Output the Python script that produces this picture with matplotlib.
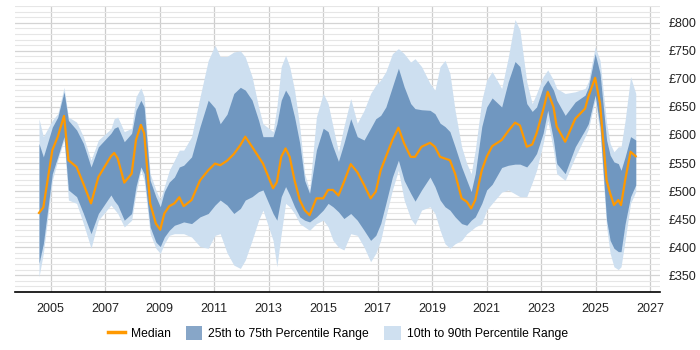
import matplotlib
matplotlib.use("Agg")
import matplotlib.pyplot as plt
from matplotlib.patches import Patch
from matplotlib.lines import Line2D
from matplotlib.ticker import MultipleLocator, FixedLocator

plt.rcParams['font.family'] = ['Liberation Sans', 'DejaVu Sans']

years = [2004.57, 2004.73, 2005.06, 2005.26, 2005.49, 2005.65, 2005.95, 2006.20, 2006.48, 2006.75,
         2007.21, 2007.33, 2007.46, 2007.70, 2007.97, 2008.13, 2008.31, 2008.43, 2008.65, 2008.86,
         2009.02, 2009.17, 2009.35, 2009.54, 2009.72, 2009.88, 2010.17, 2010.48, 2010.78, 2011.03,
         2011.22, 2011.47, 2011.72, 2011.96, 2012.14, 2012.39, 2012.63, 2012.79, 2013.16, 2013.30,
         2013.46, 2013.62, 2013.77, 2013.95, 2014.14, 2014.32, 2014.50, 2014.75, 2015.00, 2015.18,
         2015.36, 2015.56, 2015.76, 2016.01, 2016.25, 2016.50, 2016.74, 2016.93, 2017.11, 2017.30,
         2017.54, 2017.76, 2017.97, 2018.21, 2018.37, 2018.61, 2018.92, 2019.10, 2019.29, 2019.47,
         2019.65, 2019.84, 2020.08, 2020.27, 2020.43, 2020.58, 2020.82, 2021.00, 2021.20, 2021.55,
         2021.79, 2022.04, 2022.22, 2022.47, 2022.67, 2022.83, 2023.07, 2023.24, 2023.45, 2023.57,
         2023.88, 2024.25, 2024.61, 2024.73, 2024.98, 2025.16, 2025.40, 2025.53, 2025.67, 2025.83,
         2025.93, 2026.08, 2026.28, 2026.47]

p10 = [347, 389, 519, 555, 591, 484, 478, 442, 398, 448,
       475, 468, 460, 436, 448, 496, 537, 519, 424, 398,
       389, 406, 421, 424, 424, 424, 418, 401, 398, 421,
       424, 390, 368, 362, 377, 412, 448, 466, 412, 365,
       424, 478, 472, 460, 442, 436, 430, 442, 448, 436,
       412, 400, 395, 424, 421, 400, 374, 389, 412, 454,
       502, 537, 484, 451, 440, 466, 472, 460, 430, 406,
       398, 406, 412, 424, 430, 436, 442, 466, 478, 498,
       502, 495, 490, 490, 515, 537, 585, 626, 573, 531,
       519, 561, 597, 610, 662, 603, 436, 389, 365, 360,
       365, 412, 478, 499]

p25 = [371, 406, 531, 561, 597, 502, 490, 460, 424, 460,
       493, 483, 475, 448, 460, 508, 543, 531, 436, 409,
       401, 418, 430, 439, 442, 445, 442, 454, 460, 475,
       484, 475, 460, 469, 484, 490, 499, 502, 460, 448,
       490, 508, 493, 472, 454, 448, 445, 454, 466, 478,
       472, 463, 451, 460, 448, 430, 412, 421, 442, 478,
       525, 555, 519, 496, 482, 502, 525, 508, 484, 472,
       466, 454, 442, 439, 448, 454, 478, 502, 512, 542,
       546, 548, 548, 543, 555, 567, 603, 644, 591, 549,
       531, 579, 609, 620, 671, 615, 448, 412, 398, 392,
       392, 442, 490, 511]

median = [461, 471, 573, 597, 634, 555, 543, 513, 478, 525,
          562, 568, 558, 515, 531, 591, 618, 603, 478, 442,
          431, 460, 473, 478, 489, 473, 484, 519, 537, 549,
          546, 554, 566, 582, 597, 579, 561, 549, 505, 516,
          561, 576, 561, 519, 484, 466, 457, 487, 487, 502,
          502, 492, 516, 548, 534, 511, 487, 499, 537, 561,
          591, 613, 585, 561, 561, 579, 586, 579, 561, 558,
          555, 531, 487, 481, 469, 484, 537, 561, 580, 591,
          607, 622, 617, 579, 583, 603, 644, 677, 650, 615,
          588, 629, 647, 668, 702, 656, 519, 496, 475, 484,
          475, 519, 570, 562]

p75 = [585, 561, 614, 632, 677, 626, 609, 585, 543, 579,
       603, 612, 615, 588, 603, 644, 662, 650, 519, 490,
       472, 499, 516, 525, 543, 546, 561, 615, 662, 648,
       620, 637, 674, 685, 680, 662, 626, 597, 597, 620,
       662, 680, 668, 632, 585, 519, 496, 573, 612, 606,
       579, 553, 585, 629, 597, 591, 612, 629, 635, 650,
       686, 719, 686, 656, 647, 645, 644, 638, 621, 615,
       606, 579, 543, 519, 499, 531, 615, 650, 666, 650,
       695, 731, 722, 656, 642, 650, 686, 698, 680, 662,
       635, 659, 671, 685, 745, 710, 591, 564, 552, 549,
       537, 561, 597, 591]

p90 = [629, 597, 626, 638, 685, 632, 623, 597, 555, 591,
       611, 629, 632, 606, 612, 668, 684, 668, 531, 502,
       484, 508, 537, 555, 573, 573, 597, 668, 733, 760,
       740, 740, 748, 750, 739, 704, 650, 620, 606, 650,
       722, 742, 722, 680, 615, 531, 502, 632, 674, 656,
       615, 570, 615, 665, 621, 644, 674, 689, 698, 713,
       745, 754, 745, 730, 736, 722, 692, 680, 722, 733,
       710, 644, 579, 549, 531, 573, 662, 698, 713, 683,
       738, 806, 787, 695, 656, 674, 704, 716, 698, 683,
       674, 677, 683, 695, 757, 733, 621, 585, 570, 579,
       579, 626, 704, 674]

x_ticks = list(range(2005, 2028, 2))
y_ticks = list(range(350, 801, 50))
y_labels = ["£%d" % v for v in y_ticks]

fig = plt.figure(figsize=(7, 3.5), dpi=100)
ax = fig.add_axes([15/700, 1 - 292/350, (660 - 15)/700, (292 - 6)/350])

light = '#cddff0'
dark = '#7097c0'
orange = '#ff9900'

ax.fill_between(years, p10, p90, color=light, linewidth=0, zorder=2)
ax.fill_between(years, p25, p75, color=dark, linewidth=0, zorder=3)
ax.plot(years, median, color=orange, linewidth=1.6, zorder=4)

ax.set_xlim(2003.69, 2027.36)
ax.set_ylim(320, 830)

ax.yaxis.set_major_locator(FixedLocator(y_ticks))
ax.yaxis.set_minor_locator(MultipleLocator(10))
ax.set_yticklabels(y_labels)
ax.set_xticks(x_ticks)
ax.set_xticklabels([str(t) for t in x_ticks])

ax.yaxis.tick_right()
ax.tick_params(axis='y', which='both', length=0, pad=6, labelsize=9, labelcolor='#222222')
ax.tick_params(axis='x', which='both', length=0, pad=8, labelsize=9, labelcolor='#222222')

ax.grid(True, axis='y', which='major', color='#d4d4d4', linewidth=0.9, zorder=0)
ax.grid(True, axis='y', which='minor', color='#e6e6e6', linewidth=0.8, zorder=0)
ax.grid(True, axis='x', which='major', color='#cccccc', linewidth=0.9, zorder=1)
ax.set_axisbelow(True)

for s in ['top', 'left', 'right']:
    ax.spines[s].set_visible(False)
ax.spines['bottom'].set_color('#000000')
ax.spines['bottom'].set_linewidth(1.2)

handles = [Line2D([0], [0], color=orange, linewidth=2.5),
           Patch(facecolor='#87a6c8', edgecolor='none'),
           Patch(facecolor='#cfe0f0', edgecolor='none')]
labels = ['Median', '25th to 75th Percentile Range', '10th to 90th Percentile Range']
fig.legend(handles, labels, loc='center', bbox_to_anchor=(338/700, 1 - 333/350), ncol=3,
           frameon=False, fontsize=8.7, handlelength=1.4, handleheight=1.4, columnspacing=1.2,
           handletextpad=0.5)

fig.savefig('out.png', dpi=100)
